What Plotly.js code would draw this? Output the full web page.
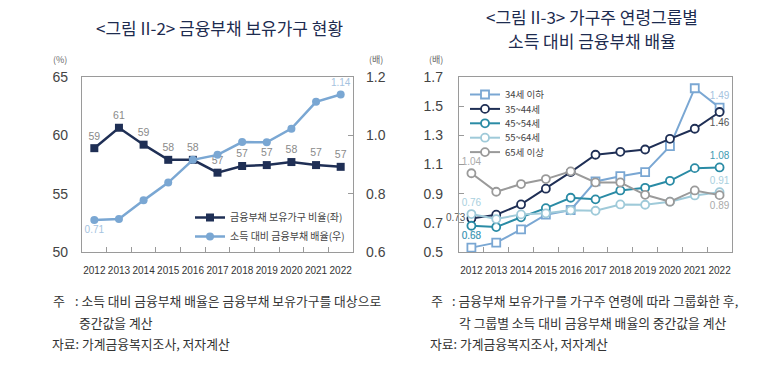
<!DOCTYPE html>
<html><head><meta charset="utf-8">
<script src="https://cdn.plot.ly/plotly-3.0.1.min.js"></script>
<style>html,body{margin:0;padding:0;background:#fff}#chart{width:781px;height:366px}</style>
</head><body><div id="chart"></div>
<script>
// ---------- data ----------
const years = ['2012','2013','2014','2015','2016','2017','2018','2019','2020','2021','2022'];
// Left chart
const holdRate  = [58.9, 60.65, 59.2, 57.9, 57.9, 56.8, 57.37, 57.45, 57.71, 57.45, 57.3];   // %
const debtRatio = [0.71, 0.713, 0.777, 0.838, 0.916, 0.933, 0.977, 0.976, 1.023, 1.115, 1.14]; // 배
// Right chart
const age34    = [0.53, 0.564, 0.655, 0.756, 0.788, 0.984, 1.02, 1.048, 1.226, 1.623, 1.49];
const age35_44 = [0.73, 0.756, 0.826, 0.934, 1.048, 1.167, 1.187, 1.203, 1.276, 1.345, 1.46];
const age45_54 = [0.68, 0.671, 0.738, 0.801, 0.872, 0.861, 0.922, 0.94, 0.988, 1.075, 1.08];
const age55_64 = [0.76, 0.726, 0.758, 0.765, 0.786, 0.783, 0.826, 0.824, 0.845, 0.888, 0.91];
const age65    = [1.04, 0.913, 0.966, 1.0, 1.053, 0.977, 0.977, 0.892, 0.845, 0.922, 0.89];
const leftNames  = ['금융부채 보유가구 비율(좌)', '소득 대비 금융부채 배율(우)'];
const rightNames = ['34세 이하', '35~44세', '45~54세', '55~64세', '65세 이상'];

// ---------- helpers ----------
const W = 781, H = 366;
const px = x => x / W, py = y => 1 - y / H;
const NUM = 'Liberation Sans, Arial, sans-serif';
const KR = 'Noto Sans CJK KR, sans-serif';
function labels(vals, spec, fmt) {
  const t = vals.map(() => ''), p = vals.map(() => 'top center');
  Object.keys(spec).forEach(i => { t[i] = fmt(vals[i]); p[i] = spec[i]; });
  return {text: t, textposition: p};
}
const f2 = v => v.toFixed(2);

const navy = '#1f2f55', lblue = '#7aa7d3', teal = '#2a8ba5', pale = '#9fcad9', gray = '#9a9a9a';

// ---------- traces ----------
const allTop = {}; years.forEach((_, i) => allTop[i] = 'top center');
const l1 = labels(holdRate, allTop, v => Math.round(v).toString());
const l2 = labels(debtRatio, {0: 'bottom center', 10: 'top center'}, f2);

function rtrace(vals, name, color, sym, spec, tcolor) {
  const l = labels(vals, spec, f2);
  return {
    x: years, y: vals, name: name, xaxis: 'x2', yaxis: 'y3', legend: 'legend2',
    mode: 'lines+markers+text', cliponaxis: false,
    line: {color: color, width: 2},
    marker: {symbol: sym, size: 8, color: '#fff', line: {color: color, width: 1.8}},
    text: l.text, textposition: l.textposition,
    textfont: {family: NUM, size: 10, color: tcolor}
  };
}

const data = [
  {x: years, y: holdRate, name: leftNames[0], xaxis: 'x', yaxis: 'y', legend: 'legend',
   mode: 'lines+markers+text', cliponaxis: false,
   line: {color: navy, width: 2.5}, marker: {symbol: 'square', size: 8, color: navy},
   text: l1.text, textposition: l1.textposition, textfont: {family: NUM, size: 10.5, color: '#8a8a8a'}},
  {x: years, y: debtRatio, name: leftNames[1], xaxis: 'x', yaxis: 'y2', legend: 'legend',
   mode: 'lines+markers+text', cliponaxis: false,
   line: {color: lblue, width: 2.5}, marker: {symbol: 'circle', size: 8, color: lblue},
   text: l2.text, textposition: l2.textposition, textfont: {family: NUM, size: 10, color: '#a5c3e0'}},
  rtrace(age34, rightNames[0], lblue, 'square', {0: 'top center', 10: 'top center'}, '#a5c3e0'),
  rtrace(age35_44, rightNames[1], navy, 'circle', {0: 'middle left', 10: 'bottom center'}, '#555'),
  rtrace(age45_54, rightNames[2], teal, 'circle', {0: 'bottom center', 10: 'top center'}, '#3f9ab3'),
  rtrace(age55_64, rightNames[3], pale, 'circle', {0: 'top center', 10: 'top center'}, '#a9d0de'),
  rtrace(age65, rightNames[4], gray, 'circle', {0: 'top center', 10: 'bottom center'}, '#aaa')
];

// ---------- layout ----------
const frame = {showline: true, linecolor: '#9a9a9a', linewidth: 1.2, mirror: true, showgrid: false, zeroline: false};
const xcommon = Object.assign({}, frame, {
  type: 'category', range: [-0.5, 10.5], tickson: 'boundaries', ticks: 'inside', ticklen: 5,
  tickcolor: '#9a9a9a', tickangle: 0, tickfont: {family: NUM, size: 10, color: '#333'}, ticklabelstandoff: 9
});
const yfont = {family: NUM, size: 14, color: '#444'};
const yDom = [py(252), py(77)];

const ann = [];
function txt(x, y, s, size, color, xanchor, family) {
  ann.push({xref: 'paper', yref: 'paper', x: px(x), y: py(y), text: s, showarrow: false,
    xanchor: xanchor || 'center', yanchor: 'middle',
    font: {family: family || KR, size: size, color: color}});
}
// titles
txt(219, 28, '&lt;그림 II-2&gt; 금융부채 보유가구 현황', 17, '#1d2b4f');
txt(592, 16, '&lt;그림 II-3&gt; 가구주 연령그룹별', 17, '#1d2b4f');
txt(592, 40, '소득 대비 금융부채 배율', 17, '#1d2b4f');
// units
txt(60, 59, '(%)', 9, '#666');
txt(376, 59, '(배)', 9, '#666');
txt(436, 59, '(배)', 9, '#666');
// footnotes left
txt(51, 300, '주', 13, '#333', 'left');
txt(73, 300, ': 소득 대비 금융부채 배율은 금융부채 보유가구를 대상으로', 12.8, '#333', 'left');
txt(77, 322, '중간값을 계산', 12.8, '#333', 'left');
txt(50, 343, '자료: 가계금융복지조사, 저자계산', 12.8, '#333', 'left');
// footnotes right
txt(429, 300, '주', 13, '#333', 'left');
txt(450, 300, ': 금융부채 보유가구를 가구주 연령에 따라 그룹화한 후,', 12.8, '#333', 'left');
txt(457, 322, '각 그룹별 소득 대비 금융부채 배율의 중간값을 계산', 12.8, '#333', 'left');
txt(428, 343, '자료: 가계금융복지조사, 저자계산', 12.8, '#333', 'left');

const layout = {
  width: W, height: H, margin: {l: 0, r: 0, t: 0, b: 0},
  paper_bgcolor: '#fff', plot_bgcolor: 'rgba(0,0,0,0)',
  font: {family: KR, color: '#333'},
  xaxis: Object.assign({}, xcommon, {domain: [px(82), px(353)], anchor: 'y'}),
  yaxis: Object.assign({}, frame, {domain: yDom, anchor: 'x', range: [50, 65], tickvals: [50, 55, 60, 65],
    ticks: '', tickfont: yfont, ticklabelstandoff: 10}),
  yaxis2: {overlaying: 'y', side: 'right', anchor: 'x', range: [0.6, 1.2], tickvals: [0.6, 0.8, 1.0, 1.2],
    tickformat: '.1f', ticks: 'inside', ticklen: 5, tickcolor: '#9a9a9a', showline: false, showgrid: false,
    zeroline: false, tickfont: yfont, ticklabelstandoff: 12},
  xaxis2: Object.assign({}, xcommon, {domain: [px(459), px(732)], anchor: 'y3'}),
  yaxis3: Object.assign({}, frame, {domain: yDom, anchor: 'x2', range: [0.5, 1.7],
    tickvals: [0.5, 0.7, 0.9, 1.1, 1.3, 1.5, 1.7], tickformat: '.1f', ticks: 'inside', ticklen: 5,
    tickcolor: '#9a9a9a', tickfont: yfont, ticklabelstandoff: 12}),
  legend: {x: px(190), y: py(203), xanchor: 'left', yanchor: 'top', bgcolor: 'rgba(0,0,0,0)',
    font: {family: KR, size: 10, color: '#444'}, itemwidth: 30, tracegroupgap: 0},
  legend2: {x: px(465), y: py(80), xanchor: 'left', yanchor: 'top', bgcolor: 'rgba(0,0,0,0)',
    font: {family: KR, size: 9.5, color: '#444'}, itemwidth: 30, tracegroupgap: 0},
  showlegend: true,
  annotations: ann
};

Plotly.newPlot('chart', data, layout, {displayModeBar: false, staticPlot: true}).then(() => {
  // tighten the row spacing of the right-hand legend to match the reference
  const items = document.querySelectorAll('g.legend2 g.traces');
  if (!items.length) return;
  const re = /translate\(\s*([-\d.e]+)[\s,]+([-\d.e]+)\s*\)/;
  const m0 = re.exec(items[0].getAttribute('transform') || '');
  if (!m0) return;
  const y0 = parseFloat(m0[2]), step = 14.4;
  items.forEach((el, i) => {
    const m = re.exec(el.getAttribute('transform') || '');
    if (m) el.setAttribute('transform', 'translate(' + m[1] + ',' + (y0 + i * step) + ')');
  });
});
</script>
</body></html>
